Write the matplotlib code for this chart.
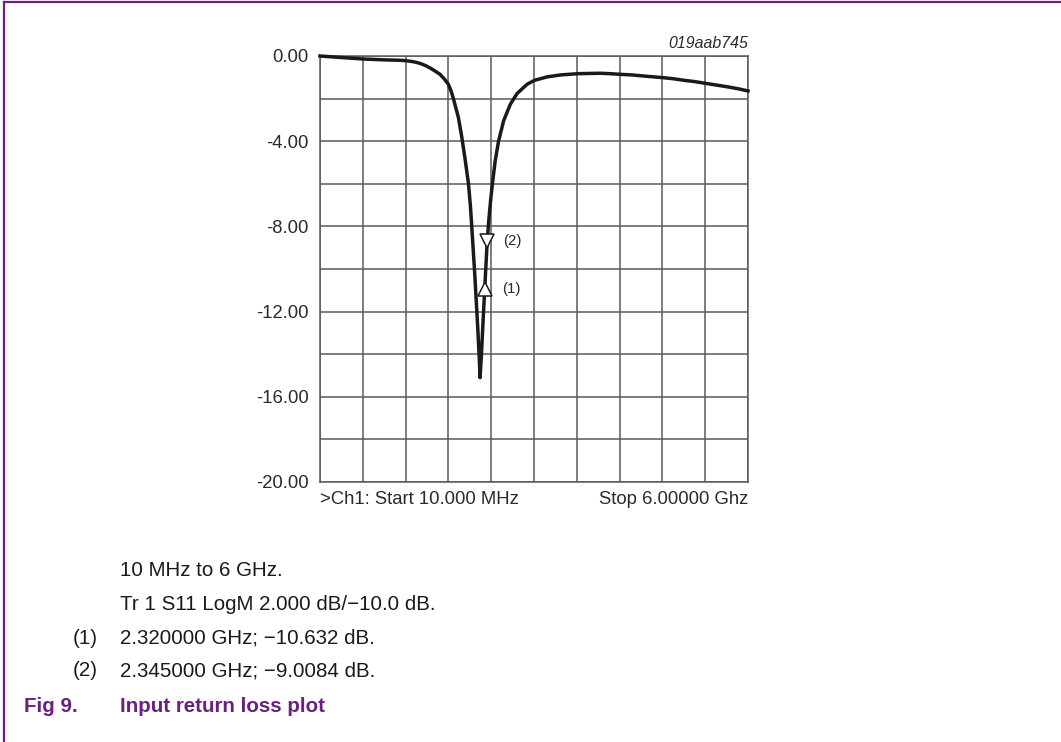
import numpy as np
import matplotlib.pyplot as plt
from matplotlib.lines import Line2D
from matplotlib.transforms import offset_copy

plt.rcParams['font.family'] = ['Liberation Sans', 'DejaVu Sans']

# S11 trace (GHz, dB)
freq_ghz = [0.01, 0.30, 0.61, 0.90, 1.12, 1.21, 1.30, 1.36, 1.43, 1.50,
            1.57, 1.64, 1.69, 1.75, 1.807, 1.845, 1.877, 1.947, 1.994, 2.041,
            2.088, 2.114, 2.13, 2.175, 2.22, 2.24, 2.25, 2.27, 2.29, 2.32,
            2.345, 2.37, 2.40, 2.43, 2.462, 2.509, 2.579, 2.673, 2.766, 2.907,
            3.014, 3.188, 3.375, 3.618, 3.77, 3.93, 4.07, 4.21, 4.38, 4.54,
            4.68, 4.82, 4.96, 5.10, 5.25, 5.40, 5.55, 5.70, 5.85, 6.00]
s11_db = [0.0, -0.07, -0.14, -0.18, -0.20, -0.22, -0.26, -0.30, -0.37, -0.47,
          -0.60, -0.75, -0.86, -1.08, -1.33, -1.65, -2.00, -2.89, -3.80, -4.85,
          -6.00, -7.00, -7.80, -10.2, -12.9, -14.3, -15.1, -14.0, -12.6, -10.632,
          -9.0084, -7.80, -6.70, -5.80, -4.92, -4.00, -3.05, -2.27, -1.77, -1.33,
          -1.14, -0.98, -0.89, -0.83, -0.82, -0.81, -0.83, -0.86, -0.89, -0.94,
          -0.98, -1.02, -1.07, -1.14, -1.20, -1.28, -1.36, -1.44, -1.53, -1.64]

# markers (1) and (2)
marker_freq = [2.320, 2.345]
marker_db = [-10.632, -9.0084]
marker_names = ["(1)", "(2)"]
marker_shapes = ["^", "v"]

y_ticks = [0, -2, -4, -6, -8, -10, -12, -14, -16, -18, -20]
y_labels = ["0.00", "", "-4.00", "", "-8.00", "", "-12.00", "", "-16.00", "", "-20.00"]

notes = ["10 MHz to 6 GHz.",
         "Tr 1 S11 LogM 2.000 dB/\u221210.0 dB."]
marker_notes = ["2.320000 GHz; \u221210.632 dB.",
                "2.345000 GHz; \u22129.0084 dB."]

purple = '#6b1f80'
W, H = 1061, 742

fig = plt.figure(figsize=(W/100, H/100), dpi=100)
ax = fig.add_axes([320/W, 1-482/H, 428/W, 426/H])

f_start, f_stop = freq_ghz[0], freq_ghz[-1]
ax.set_xlim(f_start, f_stop)
ax.set_ylim(-20, 0)
ax.set_xticks(np.linspace(f_start, f_stop, 11))
ax.set_xticklabels([])
ax.set_yticks(y_ticks)
ax.set_yticklabels(y_labels, fontsize=13.3, color='#2a2a2a')
ax.tick_params(length=0, pad=8)
ax.grid(True, color='#5a5a5a', linewidth=1.1)
for sp in ax.spines.values():
    sp.set_color('#5a5a5a')
    sp.set_linewidth(1.1)

ax.plot(freq_ghz, s11_db, color='#1a1a1a', linewidth=2.5, zorder=3, clip_on=False)

for f, db, name, shape in zip(marker_freq, marker_db, marker_names, marker_shapes):
    # triangle tip sits on the trace
    dy = 5 if shape == 'v' else -5
    tr = offset_copy(ax.transData, fig=fig, x=0, y=dy, units='points')
    ax.plot([f], [db], marker=shape, markersize=10.5, markerfacecolor='white',
            markeredgecolor='#1a1a1a', markeredgewidth=1.1, transform=tr, zorder=4)
    ax.annotate(name, (f, db), xytext=(12, dy), textcoords='offset points',
                fontsize=10.8, color='#2a2a2a', va='center', ha='left')

ax.text(1.0, 1.012, "019aab745", transform=ax.transAxes, ha='right', va='bottom',
        fontsize=11.4, style='italic', color='#2a2a2a')
ax.text(0.0, -0.022, ">Ch1: Start 10.000 MHz", transform=ax.transAxes,
        ha='left', va='top', fontsize=13.3, color='#2a2a2a')
ax.text(1.0, -0.022, "Stop 6.00000 Ghz", transform=ax.transAxes,
        ha='right', va='top', fontsize=13.3, color='#2a2a2a')

# page frame
fig.add_artist(Line2D([4/W, 1], [1-2/H, 1-2/H], color=purple, linewidth=1.6))
fig.add_artist(Line2D([4/W, 4/W], [0, 1-2/H], color=purple, linewidth=1.6))

fs = 14.8
fig.text(120/W, 1-570/H, notes[0], fontsize=fs, va='center', color='#1a1a1a')
fig.text(120/W, 1-604/H, notes[1], fontsize=fs, va='center', color='#1a1a1a')
for i, (name, txt) in enumerate(zip(marker_names, marker_notes)):
    yy = 1 - (638 + 33*i)/H
    fig.text(73/W, yy, name, fontsize=fs, va='center', color='#1a1a1a')
    fig.text(120/W, yy, txt, fontsize=fs, va='center', color='#1a1a1a')
fig.text(24/W, 1-706/H, "Fig 9.", fontsize=fs, va='center', color=purple, weight='bold')
fig.text(120/W, 1-706/H, "Input return loss plot", fontsize=fs, va='center',
         color=purple, weight='bold')

fig.savefig('out.png', dpi=100)
